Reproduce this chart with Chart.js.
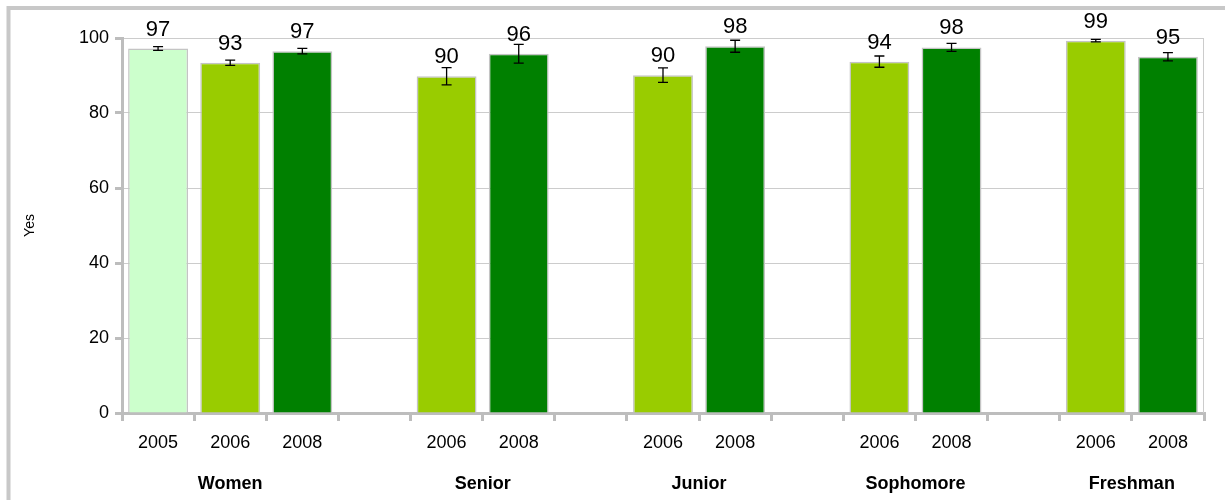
<!DOCTYPE html>
<html>
<head>
<meta charset="utf-8">
<script src="https://cdn.jsdelivr.net/npm/chart.js@4/dist/chart.umd.min.js"></script>
<style>
  html, body { margin: 0; padding: 0; background: #fff; }
  #wrap { width: 1225px; height: 500px; position: relative; }
</style>
</head>
<body>
<div id="wrap"><canvas id="c" width="1225" height="500"></canvas></div>
<script>
// Groups and the survey years shown under each
const groupNames = ['Women', 'Senior', 'Junior', 'Sophomore', 'Freshman'];
const groupYears = [['2005', '2006', '2008'], ['2006', '2008'], ['2006', '2008'], ['2006', '2008'], ['2006', '2008']];

// Percent answering "Yes", per group and year
const groupValues = [[97.2, 93.4, 96.5], [89.8, 95.8], [90.1, 97.8], [93.7, 97.5], [99.3, 95.0]];
// Half-width of the error bar, per group and year
const groupErrors = [[0.5, 0.7, 0.75], [2.3, 2.5], [1.95, 1.6], [1.5, 1.05], [0.35, 1.1]];

const yTicks = [0, 20, 40, 60, 80, 100];
const yearColors = { '2005': '#ccffcc', '2006': '#99cc00', '2008': '#008000' };

// Flatten into category slots, with an empty slot between groups
const yearLabels = [], values = [], errors = [], groupSlots = [];
groupNames.forEach((g, gi) => {
  if (gi > 0) { yearLabels.push(''); values.push(null); errors.push(null); }
  const first = yearLabels.length;
  groupYears[gi].forEach((y, yi) => {
    yearLabels.push(y);
    values.push(groupValues[gi][yi]);
    errors.push(groupErrors[gi][yi]);
  });
  groupSlots.push([first, yearLabels.length - 1]);
});
const barColors = yearLabels.map(y => yearColors[y] || 'rgba(0,0,0,0)');

const FONT = '"Liberation Sans", Arial, sans-serif';

const decorations = {
  id: 'decorations',
  beforeDraw(chart) {
    const ctx = chart.ctx;
    ctx.save();
    ctx.strokeStyle = '#c8c8c8';
    ctx.lineWidth = 4;
    ctx.strokeRect(8.5, 8, 1400, 700);
    ctx.restore();
  },
  afterDatasetsDraw(chart) {
    const ctx = chart.ctx;
    const area = chart.chartArea;
    const x = chart.scales.x, y = chart.scales.y;
    ctx.save();
    // right edge of the plot frame
    ctx.strokeStyle = '#cccccc';
    ctx.lineWidth = 1;
    ctx.beginPath();
    ctx.moveTo(Math.round(area.right) - 0.5, area.top);
    ctx.lineTo(Math.round(area.right) - 0.5, area.bottom);
    ctx.stroke();

    // error bars
    ctx.strokeStyle = '#000';
    ctx.lineWidth = 1.3;
    values.forEach((v, i) => {
      if (v == null) return;
      const cx = x.getPixelForValue(i);
      const hi = y.getPixelForValue(v + errors[i]);
      const lo = y.getPixelForValue(v - errors[i]);
      ctx.beginPath();
      ctx.moveTo(cx, hi); ctx.lineTo(cx, lo);
      ctx.moveTo(cx - 5, hi); ctx.lineTo(cx + 5, hi);
      ctx.moveTo(cx - 5, lo); ctx.lineTo(cx + 5, lo);
      ctx.stroke();
    });

    // value labels
    ctx.fillStyle = '#000';
    ctx.font = '22px ' + FONT;
    ctx.textAlign = 'center';
    ctx.textBaseline = 'middle';
    values.forEach((v, i) => {
      if (v == null) return;
      ctx.fillText(String(Math.round(v)), x.getPixelForValue(i), y.getPixelForValue(v) - 19);
    });

    // group names under the year labels
    ctx.font = 'bold 18px ' + FONT;
    groupSlots.forEach((s, gi) => {
      const cx = (x.getPixelForValue(s[0]) + x.getPixelForValue(s[1])) / 2;
      ctx.fillText(groupNames[gi], cx, 484);
    });
    ctx.restore();
  }
};

new Chart(document.getElementById('c'), {
  type: 'bar',
  data: {
    labels: yearLabels,
    datasets: [{
      data: values,
      backgroundColor: barColors,
      borderColor: '#c4c4c4',
      borderWidth: 1.5,
      barPercentage: 0.83,
      categoryPercentage: 1.0
    }]
  },
  options: {
    responsive: false,
    animation: false,
    events: [],
    layout: { padding: { left: 20, right: 21, top: 38, bottom: 0 } },
    plugins: { legend: { display: false }, tooltip: { enabled: false } },
    scales: {
      x: {
        offset: true,
        grid: { offset: true, drawOnChartArea: false, tickLength: 8, color: '#bdbdbd', lineWidth: 3 },
        border: { color: '#bdbdbd', width: 3 },
        ticks: { color: '#000', font: { family: FONT, size: 18 }, padding: 11, autoSkip: false, maxRotation: 0 },
        afterFit(scale) { scale.height = 87; }
      },
      y: {
        min: 0, max: 100,
        afterBuildTicks(scale) { scale.ticks = yTicks.map(v => ({ value: v })); },
        grid: { color: '#cccccc', lineWidth: 1, tickLength: 7, tickColor: '#bdbdbd', tickWidth: 3 },
        border: { color: '#bdbdbd', width: 3 },
        ticks: { color: '#000', font: { family: FONT, size: 18 }, padding: 6 },
        title: { display: true, text: 'Yes', color: '#000', font: { family: FONT, size: 14 }, padding: 2 },
        afterFit(scale) { scale.width = 102; }
      }
    }
  },
  plugins: [decorations]
});
</script>
</body>
</html>
